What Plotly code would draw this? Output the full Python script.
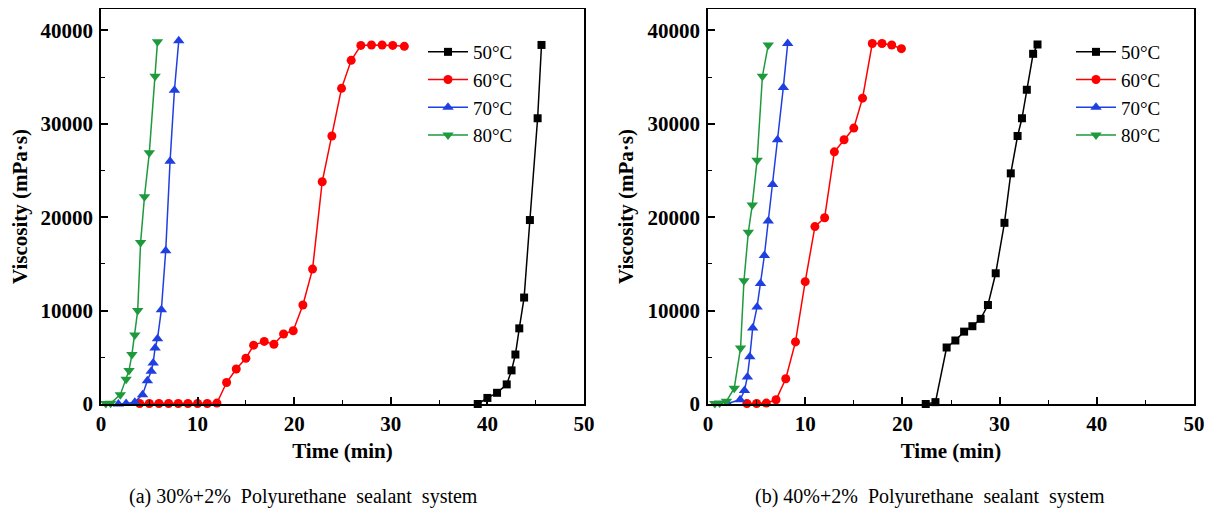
import plotly.graph_objects as go

# ---------------- data ----------------
temps = ["50°C", "60°C", "70°C", "80°C"]

# (a) 30%+2% system
a50_t = [39.0, 40.0, 41.0, 42.0, 42.5, 42.9, 43.3, 43.8, 44.4, 45.2, 45.6]
a50_v = [0, 650, 1200, 2100, 3600, 5300, 8100, 11400, 19700, 30600, 38450]

a60_t = [4, 5, 6, 7, 8, 9, 10, 11, 12, 13, 14, 15, 15.8, 16.9, 17.9, 18.9, 19.9,
         20.9, 21.9, 22.9, 23.9, 24.9, 25.9, 26.9, 28.0, 29.1, 30.2, 31.4]
a60_v = [50, 50, 50, 50, 50, 50, 50, 50, 100, 2300, 3750, 4900, 6300, 6700, 6400, 7500,
         7850, 10600, 14450, 23800, 28700, 33800, 36800, 38400, 38450, 38450, 38400, 38300]

a70_t = [1.8, 2.6, 3.5, 4.3, 4.8, 5.2, 5.4, 5.6, 5.85, 6.25, 6.7, 7.15, 7.6, 8.05]
a70_v = [0, 50, 200, 1000, 2500, 3500, 4400, 6000, 7000, 10100, 16400, 26000, 33600, 38900]

a80_t = [0.5, 1.0, 2.0, 2.6, 2.9, 3.2, 3.5, 3.8, 4.1, 4.5, 5.0, 5.6, 5.85]
a80_v = [50, 80, 1000, 2650, 3600, 5300, 7400, 10000, 17300, 22200, 26900, 35100, 38800]

# (b) 40%+2% system
b50_t = [22.4, 23.4, 24.55, 25.45, 26.35, 27.2, 28.05, 28.8, 29.6, 30.5, 31.15, 31.85,
         32.3, 32.8, 33.45, 33.9]
b50_v = [0, 200, 6050, 6800, 7750, 8330, 9120, 10600, 14000, 19400, 24700, 28700,
         30600, 33650, 37500, 38500]

b60_t = [4, 5, 6, 7, 8, 9, 10, 11, 12, 13, 14, 15, 15.9, 16.9, 17.9, 18.9, 19.9]
b60_v = [50, 50, 100, 450, 2700, 6650, 13100, 19000, 19950, 27000, 28300, 29550, 32750,
         38600, 38600, 38450, 38050]

b70_t = [2.0, 3.3, 3.75, 4.05, 4.3, 4.6, 5.05, 5.4, 5.8, 6.2, 6.65, 7.15, 7.75, 8.2]
b70_v = [50, 450, 1450, 2900, 5050, 8150, 10400, 12900, 15900, 19600, 23500, 28300, 33900, 38600]

b80_t = [0.7, 1.2, 1.9, 2.7, 3.35, 3.7, 4.15, 4.55, 5.05, 5.6, 6.2]
b80_v = [50, 100, 300, 1700, 6000, 13200, 18400, 21300, 26100, 35100, 38450]

x_ticks = [0, 10, 20, 30, 40, 50]
y_ticks = [0, 10000, 20000, 30000, 40000]

captions = ["(a) 30%+2%\u00a0 Polyurethane\u00a0 sealant\u00a0 system",
            "(b) 40%+2%\u00a0 Polyurethane\u00a0 sealant\u00a0 system"]

# ---------------- styling ----------------
colors = ["#000000", "#ff0000", "#1f3fe0", "#1e9a3c"]
symbols = ["square", "circle", "triangle-up", "triangle-down"]
sizes = [8, 9, 10, 10]
SERIF = "Liberation Serif, Times New Roman, serif"

# the page body has an 8px margin, so the figure is drawn at (8, 8)
OFF = 8
W, H = 1217 - 2 * OFF, 516 - 2 * OFF


def px(x):  # page x -> paper fraction
    return (x - OFF) / W


def py(y):  # page y -> paper fraction
    return (H - (y - OFF)) / H


fig = go.Figure()

panels = [
    ([(a50_t, a50_v), (a60_t, a60_v), (a70_t, a70_v), (a80_t, a80_v)], "x", "y", "legend"),
    ([(b50_t, b50_v), (b60_t, b60_v), (b70_t, b70_v), (b80_t, b80_v)], "x2", "y2", "legend2"),
]
for series, xa, ya, lg in panels:
    for i, (t, v) in enumerate(series):
        fig.add_trace(go.Scatter(
            x=t, y=v, mode="lines+markers", name=temps[i],
            xaxis=xa, yaxis=ya, legend=lg, cliponaxis=False,
            line=dict(color=colors[i], width=1.5),
            marker=dict(symbol=symbols[i], size=sizes[i], color=colors[i],
                        line=dict(width=0)),
        ))


def xax(domain, anchor):
    return dict(domain=domain, anchor=anchor, range=[0, 50], tickvals=x_ticks,
                automargin=False, ticklabelstandoff=0,
                ticks="inside", ticklen=7, tickwidth=1.5, tickcolor="black",
                minor=dict(ticks="inside", dtick=5, ticklen=4, tickwidth=1.2, tickcolor="black"),
                showline=True, linecolor="black", linewidth=1.5, mirror=True,
                showgrid=False, zeroline=False,
                tickfont=dict(family=SERIF, size=21, color="black", weight="bold"),
                title=dict(text="<b>Time (min)</b>", standoff=8,
                           font=dict(family=SERIF, size=21, color="black")))


def yax(domain, anchor):
    return dict(domain=domain, anchor=anchor, range=[0, 42300], tickvals=y_ticks,
                tickformat="d", automargin=False,
                ticks="inside", ticklen=7, tickwidth=1.5, tickcolor="black",
                minor=dict(ticks="inside", dtick=5000, ticklen=4, tickwidth=1.2, tickcolor="black"),
                showline=True, linecolor="black", linewidth=1.5, mirror=True,
                showgrid=False, zeroline=False, ticklabelstandoff=2,
                tickfont=dict(family=SERIF, size=21, color="black", weight="bold"),
                title=dict(text="<b>Viscosity (mPa·s)</b>", standoff=8,
                           font=dict(family=SERIF, size=21, color="black")))


ydom = [py(404), py(9)]
leg_common = dict(bgcolor="rgba(0,0,0,0)", borderwidth=0, xanchor="left", yanchor="top",
                  font=dict(family=SERIF, size=19, color="black"), itemwidth=40)

fig.update_layout(
    width=W, height=H, margin=dict(l=0, r=0, t=0, b=0, autoexpand=False),
    paper_bgcolor="white", plot_bgcolor="white",
    xaxis=xax([px(101), px(584)], "y"),
    yaxis=yax(ydom, "x"),
    xaxis2=xax([px(708), px(1194)], "y2"),
    yaxis2=yax(ydom, "x2"),
    legend=dict(x=px(423), y=py(33), **leg_common),
    legend2=dict(x=px(1071), y=py(33), **leg_common),
    showlegend=True,
    annotations=[
        dict(text=captions[0], x=px(303), y=py(496), xref="paper", yref="paper",
             showarrow=False, xanchor="center", yanchor="middle",
             font=dict(family=SERIF, size=20, color="black")),
        dict(text=captions[1], x=px(930), y=py(496), xref="paper", yref="paper",
             showarrow=False, xanchor="center", yanchor="middle",
             font=dict(family=SERIF, size=20, color="black")),
    ],
)

fig.write_html("out.html")
